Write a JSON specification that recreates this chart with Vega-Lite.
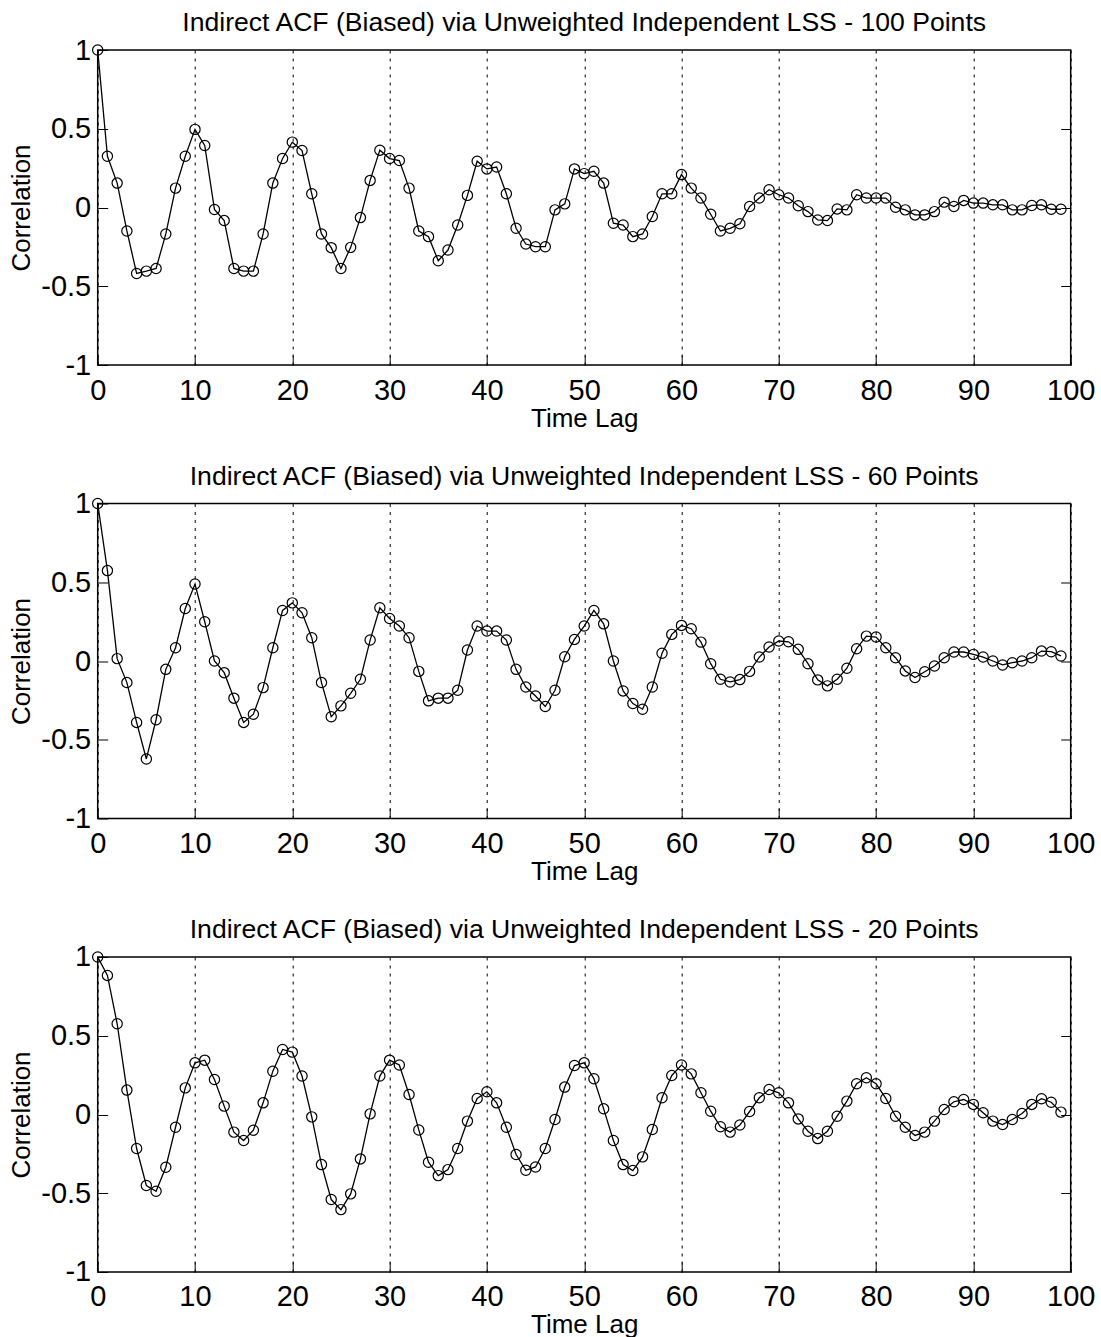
{
  "$schema": "https://vega.github.io/schema/vega-lite/v6.json",
  "background": "white",
  "padding": {"left": 7.7, "top": 9, "right": 10, "bottom": 2},
  "spacing": 30.5,
  "config": {
    "view": {"stroke": "black", "strokeWidth": 1.5},
    "font": "Liberation Sans",
    "title": {"font": "Liberation Sans", "fontSize": 26.6, "fontWeight": "normal", "color": "black", "offset": -1, "baseline": "alphabetic"},
    "axis": {
      "domain": false,
      "labelFont": "Liberation Sans",
      "labelFontSize": 29,
      "labelColor": "black",
      "titleFont": "Liberation Sans",
      "titleFontSize": 26,
      "titleFontWeight": "normal",
      "titleColor": "black",
      "tickColor": "black",
      "tickSize": -10,
      "tickWidth": 1,
      "labelFlush": false,
      "labelOverlap": false
    }
  },
  "datasets": {
    "p100": [
      {"lag":0,"r":1.0},{"lag":1,"r":0.325},{"lag":2,"r":0.155},{"lag":3,"r":-0.149},{"lag":4,"r":-0.419},{"lag":5,"r":-0.404},{"lag":6,"r":-0.387},{"lag":7,"r":-0.168},{"lag":8,"r":0.123},{"lag":9,"r":0.325},
      {"lag":10,"r":0.496},{"lag":11,"r":0.394},{"lag":12,"r":-0.013},{"lag":13,"r":-0.083},{"lag":14,"r":-0.387},{"lag":15,"r":-0.404},{"lag":16,"r":-0.404},{"lag":17,"r":-0.168},{"lag":18,"r":0.155},{"lag":19,"r":0.311},
      {"lag":20,"r":0.415},{"lag":21,"r":0.362},{"lag":22,"r":0.087},{"lag":23,"r":-0.168},{"lag":24,"r":-0.255},{"lag":25,"r":-0.387},{"lag":26,"r":-0.253},{"lag":27,"r":-0.064},{"lag":28,"r":0.172},{"lag":29,"r":0.364},
      {"lag":30,"r":0.311},{"lag":31,"r":0.298},{"lag":32,"r":0.123},{"lag":33,"r":-0.149},{"lag":34,"r":-0.185},{"lag":35,"r":-0.338},{"lag":36,"r":-0.270},{"lag":37,"r":-0.111},{"lag":38,"r":0.077},{"lag":39,"r":0.294},
      {"lag":40,"r":0.245},{"lag":41,"r":0.257},{"lag":42,"r":0.087},{"lag":43,"r":-0.132},{"lag":44,"r":-0.232},{"lag":45,"r":-0.249},{"lag":46,"r":-0.249},{"lag":47,"r":-0.015},{"lag":48,"r":0.023},{"lag":49,"r":0.245},
      {"lag":50,"r":0.215},{"lag":51,"r":0.230},{"lag":52,"r":0.155},{"lag":53,"r":-0.100},{"lag":54,"r":-0.111},{"lag":55,"r":-0.185},{"lag":56,"r":-0.168},{"lag":57,"r":-0.057},{"lag":58,"r":0.087},{"lag":59,"r":0.087},
      {"lag":60,"r":0.209},{"lag":61,"r":0.123},{"lag":62,"r":0.060},{"lag":63,"r":-0.043},{"lag":64,"r":-0.149},{"lag":65,"r":-0.132},{"lag":66,"r":-0.103},{"lag":67,"r":0.006},{"lag":68,"r":0.060},{"lag":69,"r":0.113},
      {"lag":70,"r":0.081},{"lag":71,"r":0.060},{"lag":72,"r":0.011},{"lag":73,"r":-0.026},{"lag":74,"r":-0.079},{"lag":75,"r":-0.083},{"lag":76,"r":-0.009},{"lag":77,"r":-0.015},{"lag":78,"r":0.081},{"lag":79,"r":0.060},
      {"lag":80,"r":0.060},{"lag":81,"r":0.060},{"lag":82,"r":0.002},{"lag":83,"r":-0.015},{"lag":84,"r":-0.047},{"lag":85,"r":-0.047},{"lag":86,"r":-0.026},{"lag":87,"r":0.034},{"lag":88,"r":0.006},{"lag":89,"r":0.045},
      {"lag":90,"r":0.028},{"lag":91,"r":0.028},{"lag":92,"r":0.017},{"lag":93,"r":0.017},{"lag":94,"r":-0.015},{"lag":95,"r":-0.015},{"lag":96,"r":0.013},{"lag":97,"r":0.017},{"lag":98,"r":-0.011},{"lag":99,"r":-0.011}
    ],
    "p60": [
      {"lag":0,"r":1.0},{"lag":1,"r":0.574},{"lag":2,"r":0.015},{"lag":3,"r":-0.137},{"lag":4,"r":-0.390},{"lag":5,"r":-0.622},{"lag":6,"r":-0.373},{"lag":7,"r":-0.053},{"lag":8,"r":0.084},{"lag":9,"r":0.333},
      {"lag":10,"r":0.489},{"lag":11,"r":0.249},{"lag":12,"r":0.0},{"lag":13,"r":-0.074},{"lag":14,"r":-0.236},{"lag":15,"r":-0.390},{"lag":16,"r":-0.338},{"lag":17,"r":-0.169},{"lag":18,"r":0.084},{"lag":19,"r":0.321},
      {"lag":20,"r":0.369},{"lag":21,"r":0.306},{"lag":22,"r":0.148},{"lag":23,"r":-0.137},{"lag":24,"r":-0.354},{"lag":25,"r":-0.285},{"lag":26,"r":-0.205},{"lag":27,"r":-0.116},{"lag":28,"r":0.133},{"lag":29,"r":0.338},
      {"lag":30,"r":0.270},{"lag":31,"r":0.222},{"lag":32,"r":0.148},{"lag":33,"r":-0.066},{"lag":34,"r":-0.253},{"lag":35,"r":-0.236},{"lag":36,"r":-0.236},{"lag":37,"r":-0.186},{"lag":38,"r":0.070},{"lag":39,"r":0.222},
      {"lag":40,"r":0.190},{"lag":41,"r":0.190},{"lag":42,"r":0.133},{"lag":43,"r":-0.053},{"lag":44,"r":-0.165},{"lag":45,"r":-0.222},{"lag":46,"r":-0.289},{"lag":47,"r":-0.186},{"lag":48,"r":0.027},{"lag":49,"r":0.137},
      {"lag":50,"r":0.222},{"lag":51,"r":0.321},{"lag":52,"r":0.236},{"lag":53,"r":0.0},{"lag":54,"r":-0.190},{"lag":55,"r":-0.270},{"lag":56,"r":-0.306},{"lag":57,"r":-0.165},{"lag":58,"r":0.049},{"lag":59,"r":0.169},
      {"lag":60,"r":0.226},{"lag":61,"r":0.205},{"lag":62,"r":0.120},{"lag":63,"r":-0.017},{"lag":64,"r":-0.116},{"lag":65,"r":-0.133},{"lag":66,"r":-0.118},{"lag":67,"r":-0.066},{"lag":68,"r":0.025},{"lag":69,"r":0.089},
      {"lag":70,"r":0.127},{"lag":71,"r":0.122},{"lag":72,"r":0.074},{"lag":73,"r":-0.017},{"lag":74,"r":-0.120},{"lag":75,"r":-0.158},{"lag":76,"r":-0.116},{"lag":77,"r":-0.046},{"lag":78,"r":0.078},{"lag":79,"r":0.158},
      {"lag":80,"r":0.152},{"lag":81,"r":0.084},{"lag":82,"r":0.021},{"lag":83,"r":-0.063},{"lag":84,"r":-0.105},{"lag":85,"r":-0.068},{"lag":86,"r":-0.032},{"lag":87,"r":0.021},{"lag":88,"r":0.057},{"lag":89,"r":0.057},
      {"lag":90,"r":0.042},{"lag":91,"r":0.025},{"lag":92,"r":0.0},{"lag":93,"r":-0.025},{"lag":94,"r":-0.011},{"lag":95,"r":0.0},{"lag":96,"r":0.021},{"lag":97,"r":0.063},{"lag":98,"r":0.059},{"lag":99,"r":0.032}
    ],
    "p20": [
      {"lag":0,"r":1.0},{"lag":1,"r":0.883},{"lag":2,"r":0.576},{"lag":3,"r":0.155},{"lag":4,"r":-0.216},{"lag":5,"r":-0.451},{"lag":6,"r":-0.487},{"lag":7,"r":-0.335},{"lag":8,"r":-0.081},{"lag":9,"r":0.169},
      {"lag":10,"r":0.328},{"lag":11,"r":0.345},{"lag":12,"r":0.222},{"lag":13,"r":0.053},{"lag":14,"r":-0.112},{"lag":15,"r":-0.165},{"lag":16,"r":-0.100},{"lag":17,"r":0.074},{"lag":18,"r":0.275},{"lag":19,"r":0.413},
      {"lag":20,"r":0.396},{"lag":21,"r":0.244},{"lag":22,"r":-0.015},{"lag":23,"r":-0.318},{"lag":24,"r":-0.540},{"lag":25,"r":-0.604},{"lag":26,"r":-0.504},{"lag":27,"r":-0.282},{"lag":28,"r":0.004},{"lag":29,"r":0.244},
      {"lag":30,"r":0.345},{"lag":31,"r":0.314},{"lag":32,"r":0.127},{"lag":33,"r":-0.098},{"lag":34,"r":-0.303},{"lag":35,"r":-0.388},{"lag":36,"r":-0.350},{"lag":37,"r":-0.216},{"lag":38,"r":-0.042},{"lag":39,"r":0.102},
      {"lag":40,"r":0.144},{"lag":41,"r":0.074},{"lag":42,"r":-0.081},{"lag":43,"r":-0.254},{"lag":44,"r":-0.354},{"lag":45,"r":-0.333},{"lag":46,"r":-0.216},{"lag":47,"r":-0.032},{"lag":48,"r":0.174},{"lag":49,"r":0.311},
      {"lag":50,"r":0.328},{"lag":51,"r":0.227},{"lag":52,"r":0.036},{"lag":53,"r":-0.165},{"lag":54,"r":-0.318},{"lag":55,"r":-0.356},{"lag":56,"r":-0.269},{"lag":57,"r":-0.095},{"lag":58,"r":0.106},{"lag":59,"r":0.248},
      {"lag":60,"r":0.314},{"lag":61,"r":0.258},{"lag":62,"r":0.138},{"lag":63,"r":0.021},{"lag":64,"r":-0.078},{"lag":65,"r":-0.112},{"lag":66,"r":-0.067},{"lag":67,"r":0.019},{"lag":68,"r":0.106},{"lag":69,"r":0.159},
      {"lag":70,"r":0.138},{"lag":71,"r":0.074},{"lag":72,"r":-0.028},{"lag":73,"r":-0.106},{"lag":74,"r":-0.153},{"lag":75,"r":-0.106},{"lag":76,"r":-0.011},{"lag":77,"r":0.085},{"lag":78,"r":0.195},{"lag":79,"r":0.233},
      {"lag":80,"r":0.195},{"lag":81,"r":0.102},{"lag":82,"r":-0.011},{"lag":83,"r":-0.081},{"lag":84,"r":-0.133},{"lag":85,"r":-0.112},{"lag":86,"r":-0.042},{"lag":87,"r":0.032},{"lag":88,"r":0.081},{"lag":89,"r":0.095},
      {"lag":90,"r":0.064},{"lag":91,"r":0.011},{"lag":92,"r":-0.042},{"lag":93,"r":-0.064},{"lag":94,"r":-0.032},{"lag":95,"r":0.006},{"lag":96,"r":0.064},{"lag":97,"r":0.100},{"lag":98,"r":0.078},{"lag":99,"r":0.015}
    ]
  },
  "vconcat": [
    {
      "title": "Indirect ACF (Biased) via Unweighted Independent LSS - 100 Points",
      "width": 973, "height": 315,
      "data": {"name": "p100"},
      "encoding": {
        "x": {"field": "lag", "type": "quantitative", "scale": {"domain": [0, 100], "nice": false, "zero": false},
              "axis": {"values": [0,10,20,30,40,50,60,70,80,90,100], "title": "Time Lag", "grid": true, "gridColor": "black", "gridDash": [3,5], "gridWidth": 1, "gridOpacity": 1, "labelPadding": 21, "titlePadding": 0}}
      },
      "layer": [
        {"mark": {"type": "line", "color": "black", "strokeWidth": 1.3},
         "encoding": {
           "y": {"field": "r", "type": "quantitative", "scale": {"domain": [-1, 1], "nice": false},
                 "axis": {"values": [-1,-0.5,0,0.5,1], "labelExpr": "'' + datum.value", "title": "Correlation", "grid": false, "labelPadding": 17, "titlePadding": 6}}}},
        {"mark": {"type": "point", "shape": "circle", "filled": false, "color": "black", "size": 105, "strokeWidth": 1.2, "opacity": 1},
         "encoding": {
           "y": {"field": "r", "type": "quantitative", "axis": {"orient": "right", "values": [-0.5,0,0.5], "labels": false, "title": null, "grid": false}}}}
      ],
      "resolve": {"axis": {"y": "independent"}}
    },
    {
      "title": "Indirect ACF (Biased) via Unweighted Independent LSS - 60 Points",
      "width": 973, "height": 315,
      "data": {"name": "p60"},
      "encoding": {
        "x": {"field": "lag", "type": "quantitative", "scale": {"domain": [0, 100], "nice": false, "zero": false},
              "axis": {"values": [0,10,20,30,40,50,60,70,80,90,100], "title": "Time Lag", "grid": true, "gridColor": "black", "gridDash": [3,5], "gridWidth": 1, "gridOpacity": 1, "labelPadding": 21, "titlePadding": 0}}
      },
      "layer": [
        {"mark": {"type": "line", "color": "black", "strokeWidth": 1.3},
         "encoding": {
           "y": {"field": "r", "type": "quantitative", "scale": {"domain": [-1, 1], "nice": false},
                 "axis": {"values": [-1,-0.5,0,0.5,1], "labelExpr": "'' + datum.value", "title": "Correlation", "grid": false, "labelPadding": 17, "titlePadding": 6}}}},
        {"mark": {"type": "point", "shape": "circle", "filled": false, "color": "black", "size": 105, "strokeWidth": 1.2, "opacity": 1},
         "encoding": {
           "y": {"field": "r", "type": "quantitative", "axis": {"orient": "right", "values": [-0.5,0,0.5], "labels": false, "title": null, "grid": false}}}}
      ],
      "resolve": {"axis": {"y": "independent"}}
    },
    {
      "title": "Indirect ACF (Biased) via Unweighted Independent LSS - 20 Points",
      "width": 973, "height": 315,
      "data": {"name": "p20"},
      "encoding": {
        "x": {"field": "lag", "type": "quantitative", "scale": {"domain": [0, 100], "nice": false, "zero": false},
              "axis": {"values": [0,10,20,30,40,50,60,70,80,90,100], "title": "Time Lag", "grid": true, "gridColor": "black", "gridDash": [3,5], "gridWidth": 1, "gridOpacity": 1, "labelPadding": 21, "titlePadding": 0}}
      },
      "layer": [
        {"mark": {"type": "line", "color": "black", "strokeWidth": 1.3},
         "encoding": {
           "y": {"field": "r", "type": "quantitative", "scale": {"domain": [-1, 1], "nice": false},
                 "axis": {"values": [-1,-0.5,0,0.5,1], "labelExpr": "'' + datum.value", "title": "Correlation", "grid": false, "labelPadding": 17, "titlePadding": 6}}}},
        {"mark": {"type": "point", "shape": "circle", "filled": false, "color": "black", "size": 105, "strokeWidth": 1.2, "opacity": 1},
         "encoding": {
           "y": {"field": "r", "type": "quantitative", "axis": {"orient": "right", "values": [-0.5,0,0.5], "labels": false, "title": null, "grid": false}}}}
      ],
      "resolve": {"axis": {"y": "independent"}}
    }
  ]
}
